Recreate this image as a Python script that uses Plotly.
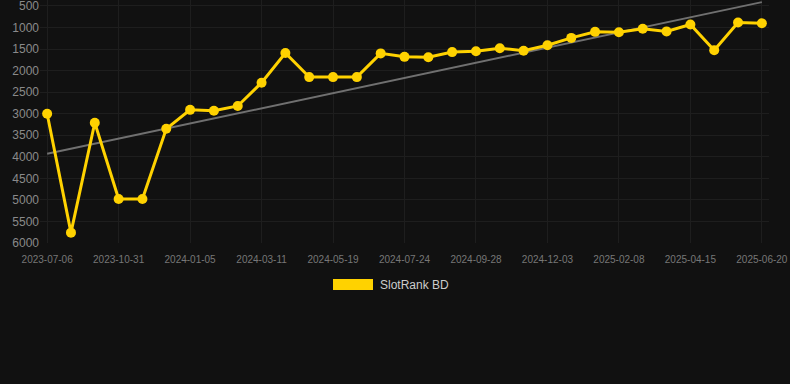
import plotly.graph_objects as go

tick_labels = ["2023-07-06", "2023-10-31", "2024-01-05", "2024-03-11", "2024-05-19",
               "2024-07-24", "2024-09-28", "2024-12-03", "2025-02-08", "2025-04-15", "2025-06-20"]
rank = [3000, 5760, 3210, 4980, 4980, 3350, 2910, 2930, 2820, 2280,
        1590, 2150, 2150, 2150, 1600, 1680, 1690, 1570, 1550, 1480,
        1540, 1410, 1240, 1100, 1110, 1030, 1090, 930, 1525, 885, 900]
trend = [3930, 410]
series_name = "SlotRank BD"

idx = list(range(len(rank)))
tick_idx = idx[::3]

PLOT_L, PLOT_W, PLOT_BOTTOM, PLOT_H = 40, 729, 243, 243

def px_y(y):
    return (PLOT_BOTTOM - y) / PLOT_H

def px_x(x):
    return (x - PLOT_L) / PLOT_W

fig = go.Figure()
fig.add_trace(go.Scatter(x=[idx[0], idx[-1]], y=trend, mode="lines",
                         line=dict(color="#707070", width=2), showlegend=False, hoverinfo="skip"))
fig.add_trace(go.Scatter(x=idx, y=rank, mode="lines+markers", name=series_name,
                         line=dict(color="#FFD200", width=3),
                         marker=dict(color="#FFD200", size=10), showlegend=False))

fig.update_layout(
    width=790, height=384,
    paper_bgcolor="#111111", plot_bgcolor="#111111",
    margin=dict(l=PLOT_L, r=21, t=0, b=141),
    font=dict(family="Liberation Sans, Arial, sans-serif"),
    xaxis=dict(range=[-0.3, 30.3], tickvals=tick_idx, ticktext=tick_labels,
               showgrid=True, gridcolor="#1e1e1e", zeroline=False,
               tickfont=dict(size=10, color="#777777"),
               ticks="outside", ticklen=7, tickcolor="#111111", showline=False,
               ticklabeloverflow="allow"),
    yaxis=dict(range=[6000, 361], tickvals=list(range(500, 6001, 500)),
               showgrid=True, gridcolor="#1e1e1e", zeroline=False,
               tickfont=dict(size=12, color="#8a8a8a"), ticks="",
               ticklabeloverflow="allow"),
    shapes=[dict(type="rect", xref="paper", yref="paper",
                 x0=px_x(333), x1=px_x(373),
                 y0=px_y(290), y1=px_y(279),
                 fillcolor="#FFD200", line=dict(width=0))],
    annotations=[dict(text=series_name, xref="paper", yref="paper",
                      x=px_x(378), y=px_y(284.5),
                      xanchor="left", yanchor="middle", showarrow=False,
                      font=dict(size=12, color="#cccccc"))],
)

fig.write_html("out.html", config={"displayModeBar": False},
               post_script="document.body.style.margin='0';document.body.style.padding='0';document.body.style.background='#111111';")
